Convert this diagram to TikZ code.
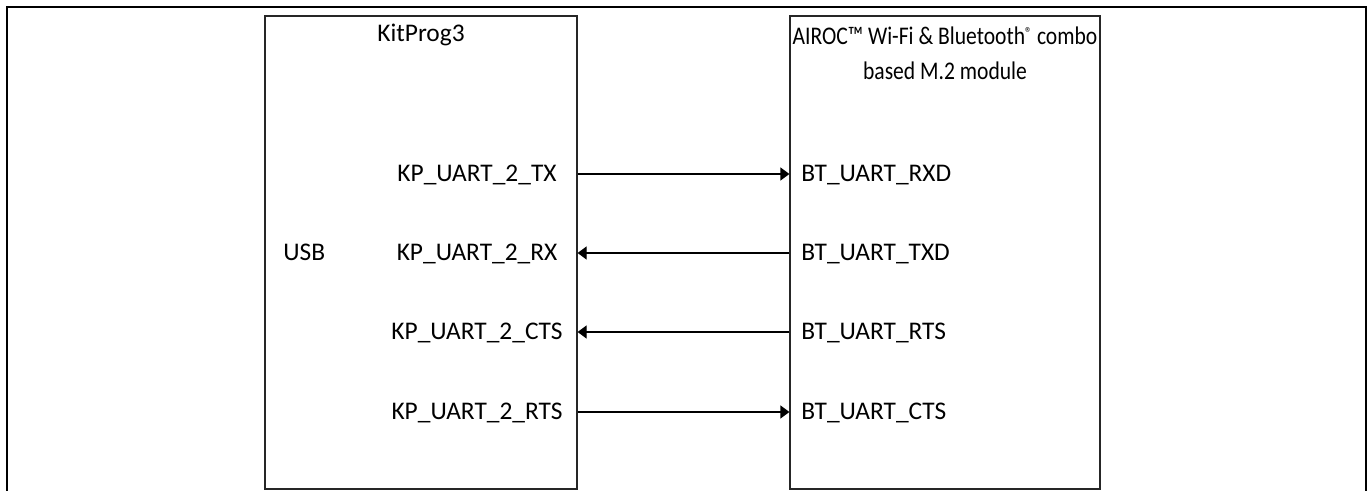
\documentclass[tikz,border=0pt]{standalone}
\usepackage{fontspec}
\setmainfont{Carlito}
\newfontfamily\narrowfont[FakeStretch=0.85]{Carlito}
\usetikzlibrary{arrows.meta}

\begin{document}
\begin{tikzpicture}[x=0.5pt, y=-0.5pt,
  blockbox/.style={draw=black!85, line width=0.6pt, minimum width=156pt, minimum height=236.5pt, inner sep=0pt},
  signame/.style={font=\fontsize{12.7}{17.5}\selectfont, inner sep=0pt},
  sigline/.style={line width=0.6pt, -{Triangle[length=4.5pt,width=6.5pt]}}]
\useasboundingbox (0,0) rectangle (1371,491);
\draw[line width=1.1pt] (7,495) -- (7,7) -- (1366,7) -- (1366,495);

\node[blockbox] (kp) at (421,252.5) {};
\node[blockbox, minimum width=155pt] (m2) at (945,252.5) {};

\node[signame, anchor=base] (kptitle) at (421,42) {KitProg3};
\node[signame, anchor=center, align=center, font=\fontsize{12.7}{17.5}\narrowfont] (m2title) at (945,53)
  {AIROC™ Wi-Fi \& Bluetooth\raisebox{0.5ex}{\fontsize{8}{8}\selectfont®} combo\\based M.2 module};

\node[signame, anchor=base west] (usb) at (283,260.5) {USB};
\node[signame, anchor=base] (kptx) at (477,181.5) {KP\_UART\_2\_TX};
\node[signame, anchor=base] (kprx) at (477,260.5) {KP\_UART\_2\_RX};
\node[signame, anchor=base] (kpcts) at (477,339.5) {KP\_UART\_2\_CTS};
\node[signame, anchor=base] (kprts) at (477,419.5) {KP\_UART\_2\_RTS};

\node[signame, anchor=base west] (btrxd) at (801,181.5) {BT\_UART\_RXD};
\node[signame, anchor=base west] (bttxd) at (801,260.5) {BT\_UART\_TXD};
\node[signame, anchor=base west] (btrts) at (801,339.5) {BT\_UART\_RTS};
\node[signame, anchor=base west] (btcts) at (801,419.5) {BT\_UART\_CTS};

\draw[sigline] (kp.east |- 0,174) -- (m2.west |- 0,174);
\draw[sigline] (m2.west |- 0,253) -- (kp.east |- 0,253);
\draw[sigline] (m2.west |- 0,332) -- (kp.east |- 0,332);
\draw[sigline] (kp.east |- 0,412) -- (m2.west |- 0,412);
\end{tikzpicture}
\end{document}
